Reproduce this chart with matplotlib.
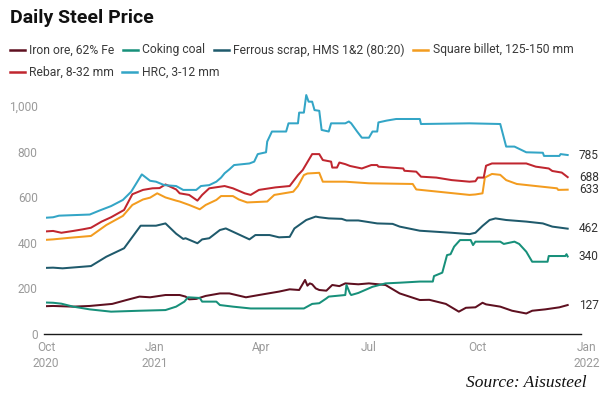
import matplotlib
matplotlib.use("Agg")
import matplotlib.pyplot as plt
import matplotlib.dates as mdates
from matplotlib.lines import Line2D
from matplotlib.ticker import FuncFormatter
import pandas as pd

W, H, DPI = 604, 396, 100

# ---------------- data ----------------
series_names = ["Iron ore, 62% Fe", "Coking coal", "Ferrous scrap, HMS 1&2 (80:20)",
                "Square billet, 125-150 mm", "Rebar, 8-32 mm", "HRC, 3-12 mm"]
series_colors = ["#5e1020", "#17907a", "#1f5a6c", "#f39c1f", "#c0262f", "#33a5c6"]

iron_ore_dates = ["2020-10-01", "2020-10-07", "2020-10-24", "2020-11-07", "2020-11-26", "2020-12-08",
                  "2020-12-19", "2020-12-28", "2021-01-10", "2021-01-22", "2021-01-27", "2021-01-30",
                  "2021-02-05", "2021-02-13", "2021-02-25", "2021-03-05", "2021-03-19", "2021-03-30",
                  "2021-04-16", "2021-04-25", "2021-05-03", "2021-05-08", "2021-05-10", "2021-05-12",
                  "2021-05-14", "2021-05-17", "2021-05-20", "2021-05-26", "2021-05-31", "2021-06-06",
                  "2021-06-11", "2021-06-22", "2021-07-01", "2021-07-15", "2021-07-27", "2021-08-13",
                  "2021-08-21", "2021-09-04", "2021-09-15", "2021-09-21", "2021-09-29", "2021-10-05",
                  "2021-10-08", "2021-10-20", "2021-10-30", "2021-11-11", "2021-11-16", "2021-11-27",
                  "2021-12-09", "2021-12-16"]
iron_ore_values = [122, 123, 120, 123, 132, 149,
                   164, 161, 171, 171, 164, 152,
                   154, 167, 178, 178, 161, 171,
                   186, 196, 193, 237, 212, 222,
                   218, 200, 193, 190, 215, 210,
                   222, 218, 222, 215, 178, 149,
                   150, 132, 98, 115, 117, 137,
                   130, 120, 102, 90, 102, 108,
                   117, 127]

coking_coal_dates = ["2020-10-01", "2020-10-07", "2020-10-14", "2020-10-24", "2020-11-07", "2020-11-25",
                     "2020-12-19", "2021-01-10", "2021-01-19", "2021-01-26", "2021-01-29", "2021-02-08",
                     "2021-02-10", "2021-02-22", "2021-02-25", "2021-03-08", "2021-03-23", "2021-05-07",
                     "2021-05-14", "2021-05-20", "2021-05-26", "2021-05-28", "2021-06-11", "2021-06-12",
                     "2021-06-15", "2021-06-16", "2021-06-22", "2021-07-04", "2021-07-15", "2021-07-27",
                     "2021-08-13", "2021-08-24", "2021-08-25", "2021-09-01", "2021-09-05", "2021-09-08",
                     "2021-09-11", "2021-09-16", "2021-09-25", "2021-09-27", "2021-09-29", "2021-10-20",
                     "2021-10-23", "2021-11-01", "2021-11-05", "2021-11-11", "2021-11-16", "2021-11-29",
                     "2021-11-30", "2021-12-14", "2021-12-15", "2021-12-16"]
coking_coal_values = [138, 137, 133, 120, 108, 98,
                      102, 105, 120, 142, 161, 158,
                      142, 142, 127, 120, 112, 112,
                      132, 135, 156, 164, 171, 215,
                      178, 171, 180, 207, 222, 225,
                      230, 230, 254, 269, 346, 350,
                      383, 412, 412, 390, 405, 405,
                      395, 405, 395, 361, 317, 317,
                      342, 342, 350, 340]

scrap_dates = ["2020-10-01", "2020-10-07", "2020-10-15", "2020-11-08", "2020-11-21", "2020-12-06",
               "2020-12-20", "2021-01-02", "2021-01-10", "2021-01-19", "2021-01-25", "2021-01-27",
               "2021-02-06", "2021-02-10", "2021-02-16", "2021-02-25", "2021-03-02", "2021-03-12",
               "2021-03-22", "2021-03-27", "2021-04-08", "2021-04-16", "2021-04-25", "2021-04-29",
               "2021-05-09", "2021-05-17", "2021-05-20", "2021-05-28", "2021-06-08", "2021-06-12",
               "2021-06-22", "2021-07-08", "2021-07-21", "2021-07-27", "2021-08-13", "2021-09-09",
               "2021-09-24", "2021-09-29", "2021-10-05", "2021-10-11", "2021-10-16", "2021-10-25",
               "2021-11-11", "2021-11-25", "2021-12-03", "2021-12-16"]
scrap_values = [290, 291, 288, 298, 339, 376,
                475, 475, 485, 440, 417, 420,
                398, 415, 420, 456, 463, 439,
                415, 434, 434, 424, 426, 463,
                500, 515, 512, 507, 505, 498,
                498, 485, 483, 471, 453, 444,
                438, 444, 474, 500, 507, 500,
                493, 485, 471, 462]

billet_dates = ["2020-10-01", "2020-10-07", "2020-10-21", "2020-11-08", "2020-11-21", "2020-12-05",
                "2020-12-13", "2020-12-22", "2020-12-28", "2021-01-03", "2021-01-10", "2021-01-19",
                "2021-01-22", "2021-01-30", "2021-02-08", "2021-02-13", "2021-02-22", "2021-02-26",
                "2021-03-08", "2021-03-13", "2021-03-20", "2021-04-06", "2021-04-12", "2021-04-28",
                "2021-05-02", "2021-05-07", "2021-05-10", "2021-05-20", "2021-05-23", "2021-06-11",
                "2021-07-01", "2021-08-07", "2021-08-10", "2021-09-24", "2021-09-29", "2021-10-05",
                "2021-10-07", "2021-10-13", "2021-10-20", "2021-10-25", "2021-11-03", "2021-11-19",
                "2021-12-07", "2021-12-08", "2021-12-16"]
billet_values = [413, 415, 422, 430, 478, 518,
                 566, 590, 598, 617, 599, 585,
                 581, 566, 547, 566, 588, 605,
                 605, 590, 577, 581, 610, 624,
                 649, 697, 704, 707, 668, 668,
                 661, 658, 634, 610, 612, 617,
                 686, 702, 698, 675, 658, 649,
                 639, 632, 633]

rebar_dates = ["2020-10-01", "2020-10-07", "2020-10-14", "2020-10-24", "2020-11-01", "2020-11-08",
               "2020-11-17", "2020-11-25", "2020-12-06", "2020-12-13", "2020-12-22", "2020-12-30",
               "2021-01-05", "2021-01-10", "2021-01-19", "2021-01-22", "2021-01-30", "2021-02-06",
               "2021-02-10", "2021-02-16", "2021-03-01", "2021-03-08", "2021-03-18", "2021-03-23",
               "2021-03-30", "2021-04-13", "2021-04-25", "2021-05-02", "2021-05-06", "2021-05-14",
               "2021-05-20", "2021-05-23", "2021-05-30", "2021-05-31", "2021-06-04", "2021-06-06",
               "2021-06-11", "2021-06-15", "2021-06-25", "2021-07-03", "2021-07-08", "2021-07-09",
               "2021-07-30", "2021-07-31", "2021-08-10", "2021-08-14", "2021-08-27", "2021-09-09",
               "2021-09-24", "2021-09-29", "2021-10-01", "2021-10-06", "2021-10-08", "2021-10-13",
               "2021-11-11", "2021-11-19", "2021-11-30", "2021-12-03", "2021-12-11", "2021-12-16"]
rebar_values = [450, 452, 444, 452, 459, 466,
                493, 512, 544, 613, 632, 639,
                640, 656, 634, 617, 610, 585,
                610, 639, 649, 639, 617, 610,
                632, 643, 649, 697, 719, 789,
                789, 763, 756, 730, 730, 752,
                745, 737, 726, 741, 741, 734,
                726, 716, 712, 690, 686, 675,
                668, 670, 686, 686, 738, 748,
                748, 734, 726, 715, 708, 688]

hrc_dates = ["2020-10-01", "2020-10-07", "2020-10-12", "2020-11-07", "2020-11-15", "2020-11-25",
             "2020-12-05", "2020-12-12", "2020-12-21", "2020-12-28", "2021-01-02", "2021-01-09",
             "2021-01-19", "2021-01-25", "2021-02-05", "2021-02-09", "2021-02-16", "2021-02-22",
             "2021-02-26", "2021-03-01", "2021-03-05", "2021-03-09", "2021-03-22", "2021-03-26",
             "2021-03-29", "2021-04-05", "2021-04-06", "2021-04-10", "2021-04-22", "2021-04-24",
             "2021-05-02", "2021-05-03", "2021-05-07", "2021-05-09", "2021-05-11", "2021-05-14",
             "2021-05-16", "2021-05-20", "2021-05-22", "2021-05-28", "2021-05-30", "2021-06-11",
             "2021-06-14", "2021-06-16", "2021-06-21", "2021-06-25", "2021-07-01", "2021-07-04",
             "2021-07-08", "2021-07-09", "2021-07-16", "2021-07-24", "2021-08-13", "2021-08-14",
             "2021-09-24", "2021-10-20", "2021-10-25", "2021-11-01", "2021-11-11", "2021-11-25",
             "2021-11-26", "2021-12-09", "2021-12-10", "2021-12-16"]
hrc_values = [510, 512, 519, 524, 541, 561,
              588, 624, 700, 672, 668, 653,
              649, 632, 632, 649, 653, 668,
              686, 705, 722, 741, 748, 756,
              789, 797, 844, 888, 888, 924,
              924, 971, 971, 1048, 1019, 1019,
              982, 979, 895, 888, 924, 924,
              932, 924, 888, 861, 861, 888,
              888, 928, 936, 943, 943, 921,
              924, 921, 822, 822, 797, 795,
              781, 781, 789, 785]

series_dates = [iron_ore_dates, coking_coal_dates, scrap_dates, billet_dates, rebar_dates, hrc_dates]
series_values = [iron_ore_values, coking_coal_values, scrap_values, billet_values, rebar_values, hrc_values]

y_ticks = [0, 200, 400, 600, 800, 1000]
x_ticks = ["2020-10-01", "2021-01-01", "2021-04-01", "2021-07-01", "2021-10-01", "2022-01-01"]
x_tick_labels = ["Oct\n2020", "Jan\n2021", "Apr", "Jul", "Oct", "Jan\n2022"]

title = "Daily Steel Price"
source = "Source: Aisusteel"

# ---------------- figure ----------------
fig = plt.figure(figsize=(W / DPI, H / DPI), dpi=DPI)
fig.patch.set_facecolor("white")

left_px, right_px, zero_px = 46, 586.6, 334
y_max = 1060
top_px = zero_px - y_max * 0.228
ax = fig.add_axes([left_px / W, 1 - zero_px / H, (right_px - left_px) / W, (zero_px - top_px) / H])

for dates, vals, col in zip(series_dates, series_values, series_colors):
    d = pd.to_datetime(dates)
    ax.plot(d, vals, color=col, lw=1.45, solid_joinstyle="round", zorder=3)
    ax.annotate(f"{vals[-1]}", xy=(d[-1], vals[-1]), xytext=(8, 0), textcoords="offset points",
                va="center", ha="left", fontsize=8.6, color="#333333", family="Roboto")

ax.set_xlim(pd.Timestamp("2020-10-01"), pd.Timestamp("2022-01-01"))
ax.set_ylim(0, y_max)

ax.set_yticks(y_ticks)
ax.yaxis.set_major_formatter(FuncFormatter(lambda v, p: f"{int(v):,}"))
ax.set_xticks(pd.to_datetime(x_ticks))
ax.set_xticklabels(x_tick_labels, linespacing=1.3)

ax.tick_params(axis="both", length=0, labelsize=8.6, labelcolor="#9a9a9a")
ax.tick_params(axis="y", pad=6)
ax.tick_params(axis="x", pad=5)
for lab in ax.get_xticklabels() + ax.get_yticklabels():
    lab.set_family("Roboto")

for s in ["top", "right", "left"]:
    ax.spines[s].set_visible(False)
ax.spines["bottom"].set_color("#1a1a1a")
ax.spines["bottom"].set_linewidth(1.0)
ax.spines["bottom"].set_bounds(mdates.date2num(pd.Timestamp("2020-09-29")),
                               mdates.date2num(pd.Timestamp("2021-12-27")))
ax.set_facecolor("white")

# title
fig.text(9.5 / W, 1 - 23 / H, title, ha="left", va="baseline", fontsize=14,
         fontweight="bold", family="Roboto", color="#111111")

# legend (manual flow layout)
fig.canvas.draw()
renderer = fig.canvas.get_renderer()
rows = [[0, 1, 2, 3], [4, 5]]
row_y = [50, 72]
for r, idxs in enumerate(rows):
    x = 9.5
    yf = 1 - row_y[r] / H
    for i in idxs:
        fig.add_artist(Line2D([x / W, (x + 15) / W], [yf, yf], color=series_colors[i], lw=1.8,
                              transform=fig.transFigure))
        t = fig.text((x + 19.5) / W, yf, series_names[i], ha="left", va="center",
                     fontsize=8.7, family="Roboto", color="#3a3a3a")
        bb = t.get_window_extent(renderer)
        x = bb.x1 + 8.5

# source
fig.text(587 / W, 1 - 383 / H, source, ha="right", va="center", fontsize=12.5,
         family="Liberation Serif", style="italic", color="#111111")

fig.savefig("out.png", dpi=DPI, facecolor="white")
